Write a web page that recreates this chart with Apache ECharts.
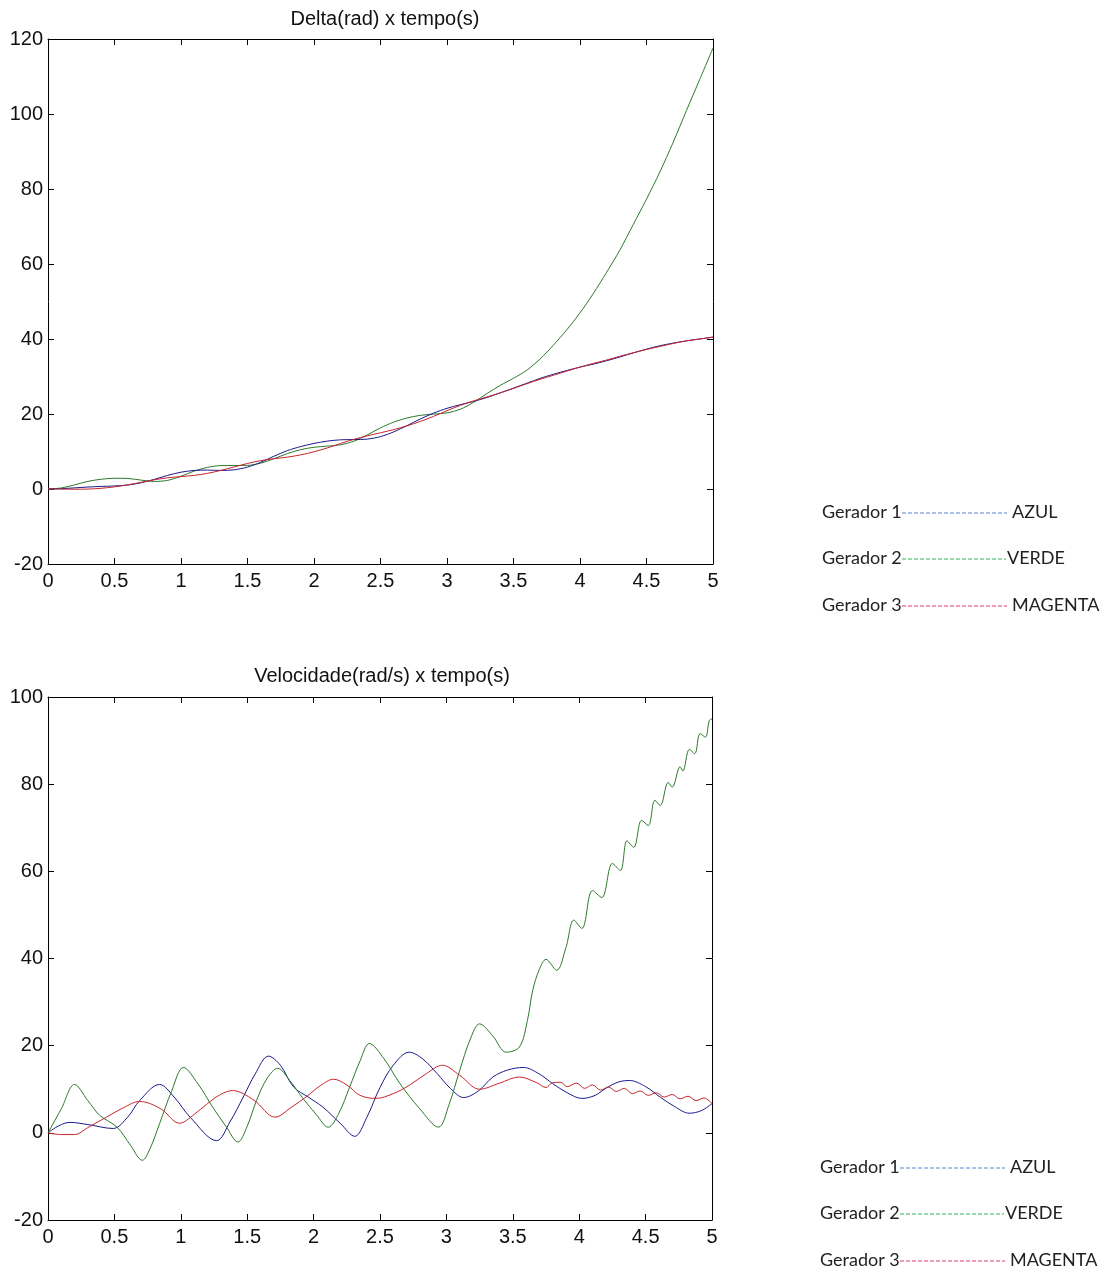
<!DOCTYPE html>
<html><head><meta charset="utf-8">
<script src="https://cdn.jsdelivr.net/npm/echarts@6/dist/echarts.min.js"></script>
<style>html,body{margin:0;padding:0;background:#fff}#c{width:1105px;height:1270px}</style>
</head><body><div id="c"></div>
<script>
// ---- Top chart: Delta(rad) x tempo(s), sampled every 0.1 s ----
const tDelta = [0,0.1,0.2,0.3,0.4,0.5,0.6,0.7,0.8,0.9,1.0,1.1,1.2,1.3,1.4,1.5,1.6,1.7,1.8,1.9,2.0,2.1,2.2,2.3,2.4,2.5,2.6,2.7,2.8,2.9,3.0,3.1,3.2,3.3,3.4,3.5,3.6,3.7,3.8,3.9,4.0,4.1,4.2,4.3,4.4,4.5,4.6,4.7,4.8,4.9,5.0];
const deltaGer1 = [0,0.09,0.3,0.52,0.69,0.81,1.07,1.66,2.58,3.63,4.48,4.95,5.05,4.95,5.12,5.85,7.13,8.76,10.24,11.32,12.15,12.77,13.12,13.18,13.3,13.97,15.24,16.91,18.68,20.25,21.52,22.49,23.36,24.39,25.64,26.9,28.2,29.5,30.6,31.6,32.5,33.3,34.2,35.2,36.3,37.3,38.2,38.9,39.5,40.0,40.5];
const deltaGer2 = [0,0.28,1.1,2.03,2.6,2.87,2.81,2.37,2.01,2.31,3.4,4.77,5.77,6.25,6.27,6.3,6.9,8.1,9.45,10.49,11.13,11.43,11.8,12.75,14.42,16.31,17.84,18.94,19.64,19.97,20.3,21.27,23.11,25.44,27.62,29.53,31.67,34.67,38.37,42.42,46.97,52.12,57.77,63.72,70.5,77.3,84.5,92.4,100.9,109.2,117.6];
const deltaGer3 = [0,-0.02,-0.06,-0.02,0.19,0.57,1.11,1.78,2.46,2.99,3.31,3.63,4.18,4.96,5.88,6.81,7.57,8.07,8.5,9.1,9.91,10.95,12.14,13.25,14.17,14.99,15.85,16.85,18.02,19.38,20.88,22.3,23.49,24.54,25.63,26.83,28.08,29.25,30.33,31.42,32.51,33.5,34.4,35.4,36.3,37.2,38.0,38.8,39.5,40.0,40.5];

// ---- Bottom chart: Velocidade(rad/s) x tempo(s), [t, v] pairs ----
const velGer1 = [[0,0],[0.08,1.6],[0.165,2.4],[0.3,1.9],[0.49,1.0],[0.6,3.6],[0.69,7.4],[0.84,11.1],[0.95,8.2],[1.07,3.6],[1.27,-1.8],[1.37,2.5],[1.47,8.2],[1.56,13.5],[1.66,17.6],[1.75,15.5],[1.85,10.5],[1.96,8.2],[2.07,5.9],[2.2,2.2],[2.31,-0.8],[2.4,3.5],[2.5,10.4],[2.6,15.5],[2.72,18.5],[2.82,17.0],[2.93,13.6],[3.03,10.2],[3.13,8.1],[3.24,9.6],[3.35,12.8],[3.46,14.4],[3.58,15],[3.7,13.5],[3.8,11.3],[3.91,9.2],[4.02,7.9],[4.12,8.6],[4.21,10.4],[4.3,11.7],[4.38,12],[4.5,10.6],[4.61,8.2],[4.72,6.0],[4.83,4.5],[4.92,5.1],[5,6.7]];
const velGer2 = [[0,0],[0.1,5.5],[0.2,11.1],[0.3,7.4],[0.39,4],[0.52,1.3],[0.62,-2.8],[0.71,-6.3],[0.77,-3.5],[0.84,2.1],[0.93,9.5],[1.02,15],[1.13,11.2],[1.24,5.9],[1.34,1.5],[1.43,-2.1],[1.5,1.5],[1.57,7.4],[1.65,12.5],[1.73,14.8],[1.82,12.0],[1.92,7.9],[2.02,4.2],[2.11,1.3],[2.19,4.5],[2.27,10.4],[2.35,16.5],[2.42,20.5],[2.53,17.0],[2.65,11.3],[2.8,5.5],[2.94,1.3],[3.02,6.5],[3.1,14.3],[3.18,21.5],[3.25,25],[3.35,22.2],[3.45,18.5],[3.55,19.7],[3.61,25.8],[3.65,32.7],[3.7,37.5],[3.75,39.8],[3.83,37.3],[3.9,42.5],[3.96,48.8],[4.02,46.9],[4.1,55.6],[4.17,54],[4.25,61.8],[4.31,60.2],[4.36,67],[4.41,65.5],[4.47,71.7],[4.52,70.5],[4.57,76.3],[4.61,75.1],[4.67,80.4],[4.7,79.3],[4.76,84],[4.78,83],[4.83,88],[4.87,87],[4.91,91.6],[4.95,90.8],[4.98,94.6],[5,95]];
const velGer3 = [[0,0],[0.1,-0.4],[0.2,-0.4],[0.3,1.2],[0.44,3.6],[0.57,5.8],[0.69,7.2],[0.85,5.5],[0.99,2.2],[1.1,4.2],[1.2,6.7],[1.3,8.8],[1.39,9.7],[1.55,7.5],[1.71,3.6],[1.83,5.8],[1.95,8.4],[2.05,10.8],[2.15,12.3],[2.25,11.0],[2.35,8.6],[2.47,7.9],[2.6,9.0],[2.72,10.9],[2.85,13.6],[2.97,15.5],[3.1,13.2],[3.25,10],[3.4,11.4],[3.55,12.8],[3.68,11.5],[3.75,10.4],[3.8,11.5],[3.86,11.6],[3.91,10.6],[3.98,11.4],[4.04,10.2],[4.1,11],[4.16,9.8],[4.22,10.5],[4.28,9.5],[4.34,10.2],[4.4,9.0],[4.46,9.6],[4.52,8.6],[4.58,9.2],[4.64,8.2],[4.7,8.8],[4.76,7.8],[4.82,8.4],[4.88,7.4],[4.94,8.0],[5,6.7]];

// ---- Axis settings ----
const xMin = 0, xMax = 5, xStep = 0.5;
const yTopMin = -20, yTopMax = 120, yBotMin = -20, yBotMax = 100, yStep = 20;
const titles = ['Delta(rad) x tempo(s)', 'Velocidade(rad/s) x tempo(s)'];
const seriesNames = ['Gerador 1', 'Gerador 2', 'Gerador 3'];
const colorNames = ['AZUL', 'VERDE', 'MAGENTA'];

const lineColors = ['#1a1a8c', '#2b7a2b', '#c8242c'];
const dashColors = ['#5b82cf', '#2fb35a', '#e23a66'];

const chart = echarts.init(document.getElementById('c'), null, {renderer: 'canvas'});
const axisFont = 'Liberation Sans, Arial, sans-serif';

function xAx(grid, main) {
  return {
    type: 'value', gridIndex: grid, min: xMin, max: xMax, interval: xStep,
    position: main ? 'bottom' : 'top',
    axisLine: {show: true, onZero: false, lineStyle: {color: '#000', width: 1}},
    axisTick: {show: true, inside: true, length: 6, lineStyle: {color: '#000'}},
    axisLabel: {show: main, color: '#111', fontSize: 20, fontFamily: axisFont, margin: 7},
    splitLine: {show: false}
  };
}
function yAx(grid, main, mn, mx) {
  return {
    type: 'value', gridIndex: grid, min: mn, max: mx, interval: yStep,
    position: main ? 'left' : 'right',
    axisLine: {show: true, onZero: false, lineStyle: {color: '#000', width: 1}},
    axisTick: {show: true, inside: true, length: 6, lineStyle: {color: '#000'}},
    axisLabel: {show: main, color: '#111', fontSize: 20, fontFamily: axisFont, margin: 5},
    splitLine: {show: false}
  };
}

const series = [];
const deltaSets = [deltaGer1, deltaGer2, deltaGer3];
deltaSets.forEach((arr, i) => {
  series.push({
    name: seriesNames[i], type: 'line', xAxisIndex: 0, yAxisIndex: 0,
    data: tDelta.map((t, k) => [t, arr[k]]),
    showSymbol: false, smooth: 0.3, lineStyle: {color: lineColors[i], width: 1}, z: i === 1 ? 2 : 3
  });
});
[velGer1, velGer2, velGer3].forEach((arr, i) => {
  series.push({
    name: seriesNames[i], type: 'line', xAxisIndex: 2, yAxisIndex: 2,
    data: arr, showSymbol: false, smooth: 0.35,
    lineStyle: {color: lineColors[i], width: 1}
  });
});

// Legend-like annotations (text + dashed line)
const graphics = [];
function legendBlock(x0, yRows, dashEnds, wordX) {
  yRows.forEach((y, i) => {
    graphics.push({type: 'text', x: x0, y: y, style: {text: seriesNames[i], fill: '#222', font: '18px Lato, "Open Sans", sans-serif', verticalAlign: 'middle'}});
    graphics.push({type: 'line', shape: {x1: x0 + 80, y1: y + 1, x2: dashEnds[i], y2: y + 1}, style: {stroke: dashColors[i], lineWidth: 1, lineDash: [4, 2]}});
    graphics.push({type: 'text', x: wordX[i], y: y, style: {text: colorNames[i], fill: '#222', font: '18px Lato, "Open Sans", sans-serif', verticalAlign: 'middle'}});
  });
}
legendBlock(822, [512, 558, 605], [1007, 1006, 1007], [1012, 1007, 1012]);
legendBlock(820, [1167, 1213, 1260], [1005, 1004, 1005], [1010, 1005, 1010]);

chart.setOption({
  animation: false,
  backgroundColor: '#fff',
  title: [
    {text: titles[0], left: 380, top: 4, textAlign: 'center', textStyle: {fontSize: 20, fontWeight: 'normal', color: '#111', fontFamily: axisFont}},
    {text: titles[1], left: 377, top: 661, textAlign: 'center', textStyle: {fontSize: 20, fontWeight: 'normal', color: '#111', fontFamily: axisFont}}
  ],
  grid: [
    {left: 48, top: 39, width: 665, height: 525},
    {left: 48, top: 697, width: 664, height: 523}
  ],
  xAxis: [xAx(0, true), xAx(0, false), xAx(1, true), xAx(1, false)],
  yAxis: [yAx(0, true, yTopMin, yTopMax), yAx(0, false, yTopMin, yTopMax), yAx(1, true, yBotMin, yBotMax), yAx(1, false, yBotMin, yBotMax)],
  series: series,
  graphic: graphics
});
</script></body></html>
